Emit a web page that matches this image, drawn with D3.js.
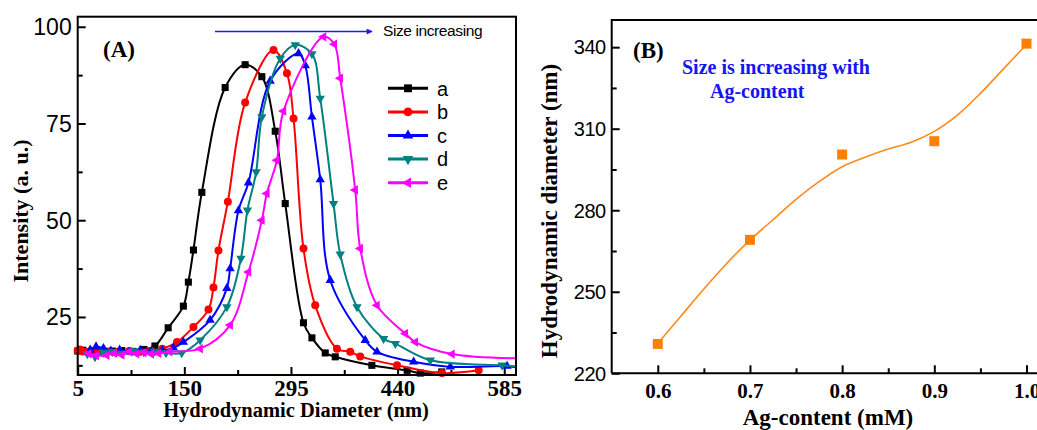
<!DOCTYPE html>
<html>
<head>
<meta charset="utf-8">
<script src="https://cdn.jsdelivr.net/npm/d3@7"></script>
<style>
  body { margin: 0; background: #fff; }
  svg { display: block; }
  .sans { font-family: "Liberation Sans", Arial, sans-serif; }
  .serif { font-family: "Liberation Serif", "Times New Roman", serif; font-weight: bold; }
</style>
</head>
<body>
<div id="chart"></div>
<script>

/* PANEL A DATA: size distributions */
var seriesNames = ["a", "b", "c", "d", "e"];

var aX = [5, 12, 20, 30, 40, 52, 65, 80, 95, 110, 128, 148.7, 155.5, 162.4, 173.8, 205.5, 232.7, 255.4, 273.6, 287.2, 312, 323.5, 341.6, 355.2, 405, 453, 471, 500];
var aY = [16.2, 16.4, 15.8, 16.1, 16.0, 16.2, 16.3, 16.1, 16.6, 17.5, 22.2, 27.8, 34, 42.3, 57.2, 84.3, 90.2, 87.1, 73, 54.3, 23.5, 19.6, 15.7, 14.7, 12.5, 11.2, 10.5, 10.8];

var bX = [5, 8, 12, 20, 30, 45, 60, 75, 90, 105, 120, 140, 162.4, 182.8, 189.6, 196.4, 209.2, 232.7, 271.3, 289.5, 298.5, 312, 328, 357.5, 375.6, 389.2, 439.2, 500.4, 550.3];
var bY = [16.3, 16.6, 16.1, 16.0, 15.8, 16.1, 16.0, 16.2, 16.0, 16.3, 16.8, 18.5, 22.4, 26.9, 32.6, 42.2, 54.8, 80.4, 94, 88, 76.3, 42.7, 28, 16.8, 16, 14.8, 12.5, 10.5, 11.2];

var cX = [22, 30, 40, 50, 62, 75, 90, 105, 120, 135, 148.7, 185, 207.8, 212.3, 223.6, 237.2, 266.7, 305.3, 314.4, 323.5, 334.8, 348.4, 396, 412, 461.8, 511.7, 588.9, 601];
var cY = [16.5, 17.3, 16.9, 16.2, 16.5, 16.0, 16.4, 16.1, 16.3, 17.0, 18.5, 24.2, 32.4, 37.5, 52.5, 59.7, 86, 93.1, 90, 76.7, 60.5, 34.5, 19, 16, 13.4, 12.1, 12.3, 12.0];

var dX = [18, 28.5, 40, 52, 65, 80, 95, 110, 125, 146.5, 171.5, 207.8, 226.9, 235.8, 247.7, 255.4, 280.4, 300.8, 323.5, 334.8, 352.9, 362, 384.8, 421, 436.9, 484.5, 582.1, 601];
var dY = [15.5, 14.7, 15.8, 16.0, 15.6, 16.2, 15.9, 16.1, 15.7, 15.7, 19, 27.6, 40.1, 52.6, 62.5, 76.7, 91.8, 95.3, 93, 81.5, 54.3, 41.2, 27.6, 19.4, 18.1, 13.8, 12.5, 12.2];

var eX = [20, 30, 44.5, 55, 65, 75, 85, 95, 105, 115, 130, 171.5, 212.3, 237.2, 255.4, 262.2, 275.9, 284.8, 339.3, 354, 362, 382.4, 389.2, 412, 450.5, 464.1, 514, 601];
var eY = [15.5, 15.0, 15.1, 15.6, 15.2, 16.0, 15.5, 15.8, 15.4, 15.6, 16.0, 16.8, 22.9, 36.6, 50, 56.9, 65.5, 78.2, 97.4, 95.5, 86.7, 57.8, 42.7, 28, 20.7, 18.5, 15.4, 14.3];

var diaTicks = [5, 150, 295, 440, 585];
var diaMinor = [77.5, 222.5, 367.5, 512.5];
var intTicks = [25, 50, 75, 100];
var intMinor = [12.5, 37.5, 62.5, 87.5];

/* PANEL B DATA: hydrodynamic diameter vs Ag content */
var agContent = [0.6, 0.7, 0.8, 0.9, 1.0];
var hydroDiam = [230.8, 269.1, 300.5, 305.4, 341.3];
// fitted curve
var fitX = [0.6, 0.625, 0.65, 0.675, 0.7, 0.725, 0.75, 0.775, 0.8, 0.825, 0.85, 0.875, 0.9, 0.925, 0.95, 0.975, 1.0];
var fitY = [231, 241, 251, 260.5, 269, 276.5, 284, 290.5, 296, 299.5, 302.5, 305, 309, 315, 323, 332, 341];

var agTicks = [0.6, 0.7, 0.8, 0.9, 1.0];
var agMinor = [0.65, 0.75, 0.85, 0.95];
var diamTicks = [220, 250, 280, 310, 340];
var diamMinor = [235, 265, 295, 325];


var W = 1037, H = 430;
var svg = d3.select("#chart").append("svg")
    .attr("width", W)
    .attr("height", H);
svg.append("rect").attr("width", W).attr("height", H).attr("fill", "#fff");

var colors = ["#000000", "#ff0000", "#0000ff", "#008080", "#ff00ff"];
var shapes = [
  {type: d3.symbolSquare, size: 50, rot: 0},
  {type: d3.symbolCircle, size: 50, rot: 0},
  {type: d3.symbolTriangle, size: 38, rot: 0},
  {type: d3.symbolTriangle, size: 38, rot: 180},
  {type: d3.symbolTriangle, size: 38, rot: -90}
];

function drawAxis(g, axis, cls){
  g.call(axis);
  g.select(".domain").remove();
  g.selectAll(".tick line").attr("stroke", "#000").attr("stroke-width", 2);
  g.selectAll(".tick text").attr("class", cls).attr("fill", "#000");
}

/* ---------- PANEL A ---------- */
var xA = d3.scaleLinear().domain([5, 601]).range([77.7, 516]);
var yA = d3.scaleLinear().domain([10, 102.6]).range([375, 16.7]);

var gA = svg.append("g");

// minor ticks
drawAxis(gA.append("g").attr("transform", "translate(0,375)"),
  d3.axisBottom(xA).tickValues(diaMinor).tickSize(-5).tickFormat(""), "");
drawAxis(gA.append("g").attr("transform", "translate(77.7,0)"),
  d3.axisLeft(yA).tickValues(intMinor).tickSize(-5).tickFormat(""), "");

// major ticks
var axAx = gA.append("g").attr("transform", "translate(0,375)");
drawAxis(axAx, d3.axisBottom(xA).tickValues(diaTicks).tickSize(-8).tickSizeOuter(0).tickPadding(5), "serif");
axAx.selectAll(".tick text").style("font-size", "23px").attr("dy", "0.68em");

var axAy = gA.append("g").attr("transform", "translate(77.7,0)");
drawAxis(axAy, d3.axisLeft(yA).tickValues(intTicks).tickSize(-8).tickSizeOuter(0).tickPadding(6), "sans");
axAy.selectAll(".tick text").style("font-size", "23px").attr("dy", "0.34em");

var seriesX = [aX, bX, cX, dX, eX];
var seriesY = [aY, bY, cY, dY, eY];

var line = d3.line()
    .x(function(d){ return xA(d[0]); })
    .y(function(d){ return yA(d[1]); })
    .curve(d3.curveCatmullRom.alpha(0.5));

seriesNames.forEach(function(name, i){
  var pts = seriesX[i].map(function(x, j){ return [x, seriesY[i][j]]; });
  gA.append("path")
      .datum(pts)
      .attr("d", line)
      .attr("fill", "none")
      .attr("stroke", colors[i])
      .attr("stroke-width", 2);
  var sym = d3.symbol().type(shapes[i].type).size(shapes[i].size);
  gA.selectAll(".m-" + name)
      .data(pts.filter(function(d){ return d[0] <= 600; }))
    .enter().append("path")
      .attr("class", "m-" + name)
      .attr("d", sym)
      .attr("fill", colors[i])
      .attr("transform", function(d){
        return "translate(" + xA(d[0]) + "," + yA(d[1]) + ") rotate(" + shapes[i].rot + ")";
      });
});

// frame
gA.append("rect")
    .attr("x", 77.7).attr("y", 16.7)
    .attr("width", 516 - 77.7).attr("height", 375 - 16.7)
    .attr("fill", "none").attr("stroke", "#000").attr("stroke-width", 2);

// legend
var lg = gA.append("g");
seriesNames.forEach(function(name, i){
  var ly = 88.3 + i * 23.6;
  lg.append("line")
      .attr("x1", 388).attr("x2", 428).attr("y1", ly).attr("y2", ly)
      .attr("stroke", colors[i]).attr("stroke-width", 3);
  lg.append("path")
      .attr("d", d3.symbol().type(shapes[i].type).size(shapes[i].size * 1.25))
      .attr("fill", colors[i])
      .attr("transform", "translate(408," + ly + ") rotate(" + shapes[i].rot + ")");
  lg.append("text")
      .attr("class", "sans")
      .attr("x", 437).attr("y", ly).attr("dy", "0.36em")
      .style("font-size", "20px")
      .text(name);
});

// size arrow
svg.append("defs").append("marker")
    .attr("id", "arr")
    .attr("viewBox", "0 0 10 10")
    .attr("refX", 9).attr("refY", 5)
    .attr("markerWidth", 9).attr("markerHeight", 6)
    .attr("markerUnits", "userSpaceOnUse")
    .attr("orient", "auto")
  .append("path").attr("d", "M0,0L10,5L0,10z").attr("fill", "#1a1aff");
gA.append("line")
    .attr("x1", 215).attr("x2", 372).attr("y1", 31.5).attr("y2", 31.5)
    .attr("stroke", "#1a1aff").attr("stroke-width", 1.5)
    .attr("marker-end", "url(#arr)");
gA.append("text").attr("class", "sans")
    .attr("x", 383).attr("y", 36)
    .style("font-size", "15.5px").style("letter-spacing", "-0.4px")
    .text("Size increasing");

gA.append("text").attr("class", "serif")
    .attr("x", 103).attr("y", 57)
    .style("font-size", "23px")
    .text("(A)");

gA.append("text").attr("class", "serif")
    .attr("x", 296).attr("y", 417)
    .attr("text-anchor", "middle")
    .style("font-size", "20.5px")
    .text("Hydrodynamic Diameter (nm)");

gA.append("text").attr("class", "serif")
    .attr("transform", "translate(28,211) rotate(-90)")
    .attr("text-anchor", "middle")
    .style("font-size", "22px")
    .text("Intensity (a. u.)");

/* ---------- PANEL B ---------- */
var xB = d3.scaleLinear().domain([0.55, 1.0]).range([611.7, 1026.5]);
var yB = d3.scaleLinear().domain([220, 350]).range([373.3, 20]);

var gB = svg.append("g");

drawAxis(gB.append("g").attr("transform", "translate(0,373.3)"),
  d3.axisBottom(xB).tickValues(agMinor).tickSize(-5).tickFormat(""), "");
drawAxis(gB.append("g").attr("transform", "translate(611.7,0)"),
  d3.axisLeft(yB).tickValues(diamMinor).tickSize(-5).tickFormat(""), "");

var axBx = gB.append("g").attr("transform", "translate(0,373.3)");
drawAxis(axBx, d3.axisBottom(xB).tickValues(agTicks).tickSize(-8).tickSizeOuter(0).tickPadding(10)
  .tickFormat(d3.format(".1f")), "serif");
axBx.selectAll(".tick text").style("font-size", "21px");

var axBy = gB.append("g").attr("transform", "translate(611.7,0)");
drawAxis(axBy, d3.axisLeft(yB).tickValues(diamTicks).tickSize(-8).tickSizeOuter(0).tickPadding(6), "sans");
axBy.selectAll(".tick text").style("font-size", "20px").style("letter-spacing", "-0.5px").attr("dy", "0.34em");

var fitLine = d3.line()
    .x(function(d){ return xB(d[0]); })
    .y(function(d){ return yB(d[1]); })
    .curve(d3.curveCatmullRom.alpha(0.5));

gB.append("path")
    .datum(fitX.map(function(x, j){ return [x, fitY[j]]; }))
    .attr("d", fitLine)
    .attr("fill", "none")
    .attr("stroke", "#ff8a1c")
    .attr("stroke-width", 1.6);

gB.selectAll(".pt")
    .data(agContent.map(function(x, j){ return [x, hydroDiam[j]]; }))
  .enter().append("rect")
    .attr("class", "pt")
    .attr("x", function(d){ return xB(d[0]) - 5; })
    .attr("y", function(d){ return yB(d[1]) - 5; })
    .attr("width", 10).attr("height", 10)
    .attr("fill", "#ff8000");

// frame (right side falls outside the picture)
gB.append("path")
    .attr("d", "M611.7,373.3V20H1045M611.7,373.3H1045")
    .attr("fill", "none").attr("stroke", "#000").attr("stroke-width", 2);

gB.append("text").attr("class", "serif")
    .attr("x", 633).attr("y", 58)
    .style("font-size", "23px")
    .text("(B)");

gB.append("text").attr("class", "serif")
    .attr("x", 682).attr("y", 74)
    .attr("fill", "#1414f5")
    .style("font-size", "20px")
    .text("Size is increasing with");
gB.append("text").attr("class", "serif")
    .attr("x", 710).attr("y", 98)
    .attr("fill", "#1414f5")
    .style("font-size", "20px")
    .text("Ag-content");

gB.append("text").attr("class", "serif")
    .attr("x", 828).attr("y", 425)
    .attr("text-anchor", "middle")
    .style("font-size", "23px")
    .text("Ag-content (mM)");

gB.append("text").attr("class", "serif")
    .attr("transform", "translate(557,211) rotate(-90)")
    .attr("text-anchor", "middle")
    .style("font-size", "23px")
    .text("Hydrodynamic diameter (nm)");

</script>
</body>
</html>
